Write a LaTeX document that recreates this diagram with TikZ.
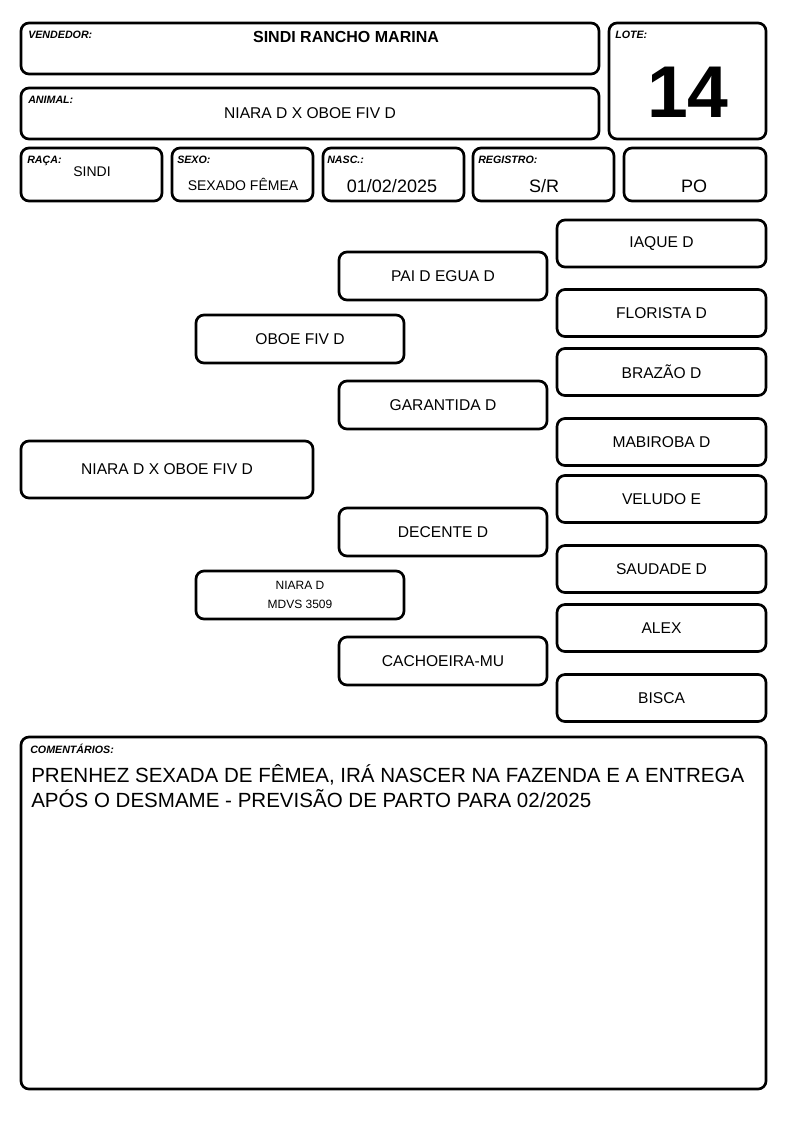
\documentclass[tikz,border=0pt]{standalone}
\usepackage{fontspec}
\setmainfont{Liberation Sans}
\begin{document}
\begin{tikzpicture}[x=0.75pt,y=-0.75pt,
  box/.style 2 args={draw, line width=2pt, rounded corners=6pt, minimum width=#1*0.75pt, minimum height=#2*0.75pt, inner sep=0pt, align=center, font=\fontsize{11.7}{14}\selectfont},
  lbl/.style={anchor=north west, inner sep=0pt, font=\fontsize{8}{9}\selectfont\bfseries\itshape},
  val/.style={inner sep=0pt, font=\fontsize{11.7}{14}\selectfont}]
\useasboundingbox (0,0) rectangle (794,1123);
% header
\node[box={578}{51}] (vend) at (310,48.5) {};
\node[lbl] (vendl) at (28,31) {VENDEDOR:};
\node[val, font=\fontsize{12}{14}\selectfont\bfseries] (vendv) at (346,37) {SINDI RANCHO MARINA};
\node[box={578}{51}] (anim) at (310,113.5) {};
\node[lbl] (animl) at (28,96) {ANIMAL:};
\node[val] (animv) at (310,113) {NIARA D X OBOE FIV D};
\node[box={157}{116}] (lote) at (687.5,81) {};
\node[lbl] (lotel) at (615,31) {LOTE:};
\node[val, font=\fontsize{55}{55}\selectfont\bfseries] (lotev) at (688,92) {14};
\node[box={141}{53}] (raca) at (91.5,174.5) {};
\node[lbl] (racal) at (27,156) {RAÇA:};
\node[val, font=\fontsize{10.5}{12}\selectfont] (racav) at (92,172) {SINDI};
\node[box={141}{53}] (sexo) at (242.5,174.5) {};
\node[lbl] (sexol) at (177,156) {SEXO:};
\node[val, font=\fontsize{10.5}{12}\selectfont] (sexov) at (243,184) {SEXADO FÊMEA};
\node[box={141}{53}] (nasc) at (393.5,174.5) {};
\node[lbl] (nascl) at (327,156) {NASC.:};
\node[val, font=\fontsize{13.5}{15}\selectfont] (nascv) at (392,186) {01/02/2025};
\node[box={141}{53}] (reg) at (543.5,174.5) {};
\node[lbl] (regl) at (478,156) {REGISTRO:};
\node[val, font=\fontsize{13.5}{15}\selectfont] (regv) at (544,186) {S/R};
\node[box={142}{53}] (po) at (695,174.5) {};
\node[val, font=\fontsize{13.5}{15}\selectfont] (pov) at (694,186) {PO};
% pedigree
\node[box={292}{57}] (p0) at (167,469.5) {NIARA D X OBOE FIV D};
\node[box={208}{48}] (p1) at (300,339) {OBOE FIV D};
\node[box={208}{48}] (p2) at (300,595) {\fontsize{9}{11}\selectfont NIARA D\\\fontsize{9}{11}\selectfont MDVS 3509};
\node[box={208}{48}] (p11) at (443,276) {PAI D EGUA D};
\node[box={208}{48}] (p12) at (443,405) {GARANTIDA D};
\node[box={208}{48}] (p21) at (443,532) {DECENTE D};
\node[box={208}{48}] (p22) at (443,661) {CACHOEIRA-MU};
\node[box={209}{47}] (q1) at (661.5,243.5) {IAQUE D};
\node[box={209}{47}] (q2) at (661.5,313) {FLORISTA D};
\node[box={209}{47}] (q3) at (661.5,372) {BRAZÃO D};
\node[box={209}{47}] (q4) at (661.5,442) {MABIROBA D};
\node[box={209}{47}] (q5) at (661.5,499) {VELUDO E};
\node[box={209}{47}] (q6) at (661.5,569) {SAUDADE D};
\node[box={209}{47}] (q7) at (661.5,628) {ALEX};
\node[box={209}{47}] (q8) at (661.5,698) {BISCA};
% comments
\node[box={745}{352}] (com) at (393.5,913) {};
\node[lbl] (coml) at (30,744) {COMENTÁRIOS:};
\node[anchor=north west, inner sep=0pt, align=left, font=\fontsize{15.4}{19}\selectfont] (comv) at (31,764) {PRENHEZ SEXADA DE FÊMEA, IRÁ NASCER NA FAZENDA E A ENTREGA\\APÓS O DESMAME - PREVISÃO DE PARTO PARA 02/2025};
\end{tikzpicture}
\end{document}
